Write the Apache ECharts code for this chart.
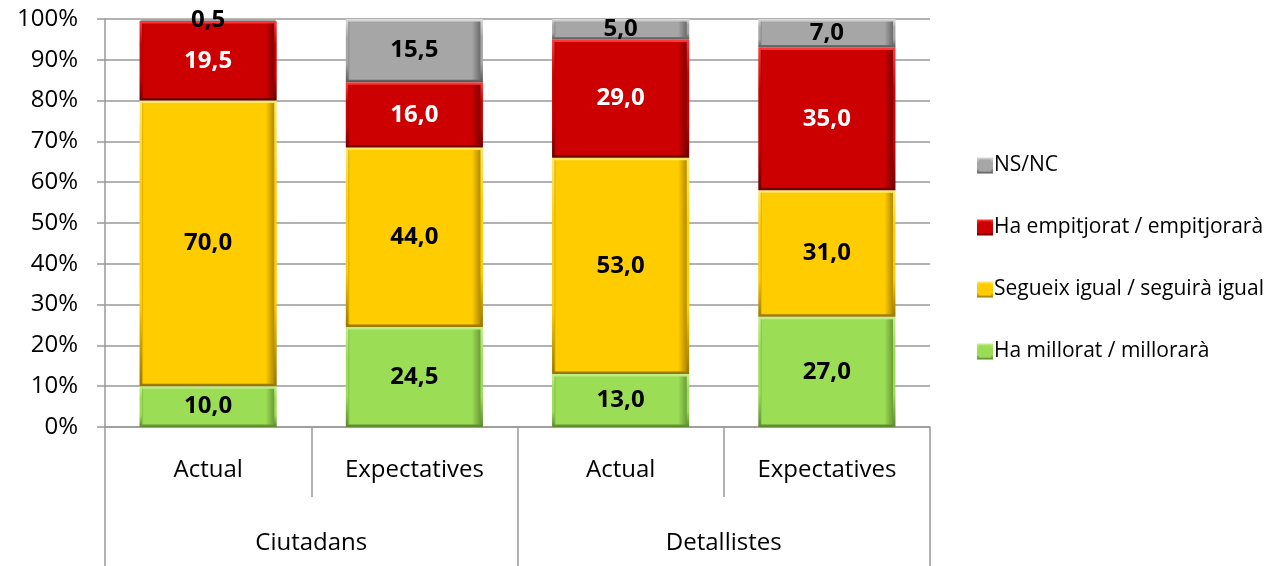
<!DOCTYPE html>
<html>
<head>
<meta charset="utf-8">
<script src="https://cdn.jsdelivr.net/npm/echarts@6/dist/echarts.min.js"></script>
<style>html,body{margin:0;padding:0;background:#fff}#c{width:1267px;height:566px}</style>
</head>
<body>
<div id="c"></div>
<script>
const categories = ['Actual', 'Expectatives', 'Actual', 'Expectatives'];
const groups = ['Ciutadans', 'Detallistes'];
const yTicks = [0, 10, 20, 30, 40, 50, 60, 70, 80, 90, 100];
const seriesNames = ['Ha millorat / millorarà', 'Segueix igual / seguirà igual', 'Ha empitjorat / empitjorarà', 'NS/NC'];
const millorat = [10.0, 24.5, 13.0, 27.0];
const igual = [70.0, 44.0, 53.0, 31.0];
const empitjorat = [19.5, 16.0, 29.0, 35.0];
const nsnc = [0.5, 15.5, 5.0, 7.0];

const FONT = 'Open Sans';
const colors = [
  {base: '#9BDD55', light: '#C2F08A', dark: '#5C8A2E', label: '#000'},
  {base: '#FFCC00', light: '#FFE766', dark: '#9A7800', label: '#000'},
  {base: '#CC0000', light: '#FF3A3A', dark: '#6A0000', label: '#fff'},
  {base: '#A6A6A6', light: '#DADADA', dark: '#5A5A5A', label: '#000'}
];
function fillGrad(c) {
  return new echarts.graphic.LinearGradient(0, 0, 1, 0, [
    {offset: 0, color: c.dark},
    {offset: 0.03, color: c.base},
    {offset: 0.92, color: c.base},
    {offset: 1, color: c.dark}
  ]);
}
function strokeGrad(c) {
  return new echarts.graphic.LinearGradient(0, 0, 0, 1, [
    {offset: 0, color: c.light},
    {offset: 0.3, color: c.base},
    {offset: 0.7, color: c.base},
    {offset: 1, color: c.dark}
  ]);
}
const dataSets = [millorat, igual, empitjorat, nsnc];
const series = dataSets.map((d, i) => ({
  name: seriesNames[i],
  type: 'bar',
  stack: 'total',
  barWidth: '66.5%',
  data: d,
  itemStyle: {color: fillGrad(colors[i]), borderColor: strokeGrad(colors[i]), borderWidth: 2.5},
  label: {
    show: true,
    position: 'inside',
    formatter: p => p.value.toFixed(1).replace('.', ','),
    color: colors[i].label,
    fontFamily: FONT,
    fontWeight: 'bold',
    fontSize: 24
  }
}));

const chart = echarts.init(document.getElementById('c'));
chart.setOption({
  animation: false,
  legend: {
    orient: 'vertical',
    left: 972,
    top: 150,
    itemGap: 41,
    itemWidth: 14,
    itemHeight: 14,
    icon: 'rect',
    data: ['NS/NC', 'Ha empitjorat / empitjorarà', 'Segueix igual / seguirà igual', 'Ha millorat / millorarà'],
    textStyle: {fontFamily: FONT, fontSize: 21, lineHeight: 21, color: '#000', padding: [0, 0, 0, -3]}
  },
  grid: {left: 105, right: 337, top: 19, bottom: 139, containLabel: false},
  xAxis: [
    {
      type: 'category',
      data: categories,
      axisLine: {lineStyle: {color: '#999', width: 1.5}},
      axisTick: {show: true, interval: 0, length: 70, lineStyle: {color: '#999', width: 1.5}},
      axisLabel: {interval: 0, margin: 31, color: '#000', fontFamily: FONT, fontSize: 24}
    },
    {
      type: 'category',
      position: 'bottom',
      data: groups,
      axisLine: {show: false},
      axisTick: {show: true, interval: 0, length: 139, lineStyle: {color: '#999', width: 1.5}},
      axisLabel: {interval: 0, margin: 104, color: '#000', fontFamily: FONT, fontSize: 24}
    }
  ],
  yAxis: {
    type: 'value',
    min: yTicks[0],
    max: yTicks[yTicks.length - 1],
    interval: 10,
    axisLine: {show: true, lineStyle: {color: '#999', width: 1.5}},
    axisTick: {show: true, length: 8, lineStyle: {color: '#999', width: 1.5}},
    splitLine: {show: true, lineStyle: {color: '#999', width: 1.5}},
    axisLabel: {formatter: '{value}%', margin: 27, color: '#000', fontFamily: FONT, fontSize: 24}
  },
  series: series
});
</script>
</body>
</html>
